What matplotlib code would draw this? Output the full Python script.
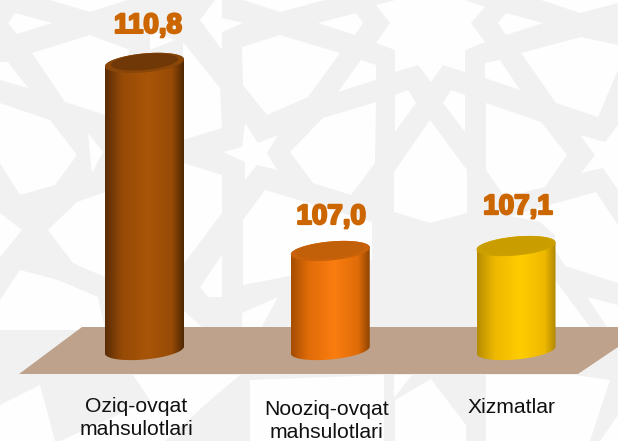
import numpy as np
import matplotlib
matplotlib.use('Agg')
import matplotlib.pyplot as plt
import matplotlib.patheffects as pe
from matplotlib.colors import LinearSegmentedColormap
from matplotlib.patches import Polygon

plt.rcParams['font.family'] = ['Liberation Sans', 'DejaVu Sans']

categories = ['Oziq-ovqat\nmahsulotlari', 'Nooziq-ovqat\nmahsulotlari', 'Xizmatlar']
values = [110.8, 107.0, 107.1]
value_labels = ['110,8', '107,0', '107,1']
base_value = 105.0

# colours: body edge left, body side, body middle, body edge right, cap, inner cap
bar_colors = [
    ['#5a2c06', '#974b06', '#a85508', '#4e2704', '#8a4608', '#6f3806'],
    ['#a54d02', '#e06c08', '#fa7d10', '#8f4403', '#c8610a', '#c2600a'],
    ['#b58c00', '#eeb800', '#ffcc00', '#a98300', '#cc9f00', '#c99c00'],
]

W, H = 618, 441
PX_PER_VALUE = 49.5
PX_PER_CAT = 185.75
BASE_PX = 350
FIRST_CAT_PX = 144.5

# background lattice, white cells over the grey (pixels of the picture)
white_cells = [
    [(8, 23), (15, 13), (52, 23), (17, 34)],
    [(32, 53), (90, 35), (130, 50), (105, 115), (65, 102)],
    [(0, 62), (8, 62), (28, 88), (0, 80)],
    [(0, 103), (50, 120), (77, 155), (55, 185), (20, 195), (0, 163)],
    [(50, 0), (128, 0), (90, 12)],
    [(88, 133), (103, 152), (92, 173)],
    [(183, 42), (220, 88), (222, 128), (183, 140)],
    [(150, 30), (175, 40), (150, 50)],
    [(200, 20), (215, 0), (222, 0), (222, 18), (243, 23), (222, 32), (222, 50)],
    [(242, 47), (280, 35), (340, 53), (308, 97), (267, 115), (243, 85)],
    [(243, 0), (280, 12), (325, 0)],
    [(318, 23), (356, 13), (363, 23), (355, 35)],
    [(376, 5), (395, 0), (465, 0), (485, 7), (471, 23), (485, 42), (465, 50), (465, 72),
     (443, 65), (431, 82), (418, 65), (395, 72), (395, 50), (376, 43), (390, 23)],
    [(361, 60), (376, 65), (376, 80), (338, 92)],
    [(323, 118), (376, 102), (375, 163), (351, 195), (313, 183), (290, 152)],
    [(395, 95), (408, 90), (416, 103), (395, 132)],
    [(451, 90), (465, 95), (465, 132), (443, 103)],
    [(430, 120), (467, 170), (467, 213), (430, 223), (394, 212), (394, 172)],
    [(485, 63), (500, 60), (520, 90), (485, 78)],
    [(498, 23), (506, 13), (543, 23), (506, 35)],
    [(541, 0), (580, 13), (618, 3), (618, 0)],
    [(521, 53), (581, 37), (618, 45), (618, 70), (598, 117), (556, 103)],
    [(486, 103), (541, 122), (567, 155), (545, 187), (505, 197), (486, 170)],
    [(580, 135), (605, 142), (618, 125), (618, 190), (603, 168), (581, 173), (595, 155)],
    [(510, 216), (596, 192), (618, 225), (618, 283), (565, 266), (555, 250), (555, 235), (540, 222)],
    [(587, 297), (618, 305), (618, 327), (607, 327)],
    [(555, 280), (590, 327), (555, 327)],
    [(0, 213), (22, 230), (0, 257)],
    [(48, 230), (77, 202), (105, 192), (105, 277), (73, 263)],
    [(20, 270), (58, 280), (98, 297), (105, 330), (0, 330), (0, 300)],
    [(183, 163), (222, 175), (222, 213), (183, 265)],
    [(200, 287), (222, 255), (222, 297), (208, 297)],
    [(243, 220), (265, 190), (372, 222), (372, 260), (243, 285)],
    [(242, 313), (278, 297), (260, 330), (242, 330)],
    [(183, 310), (205, 330), (183, 330)],
    [(223, 152), (242, 147), (245, 123), (258, 143), (278, 135), (267, 153), (277, 170),
     (257, 165), (245, 180), (245, 162)],
    [(133, 375), (240, 375), (207, 403), (165, 441), (60, 441), (150, 400)],
    [(250, 380), (384, 375), (384, 441), (250, 441)],
    [(394, 375), (412, 375), (394, 398)],
    [(395, 400), (431, 379), (466, 425), (466, 441), (395, 441)],
    [(486, 375), (575, 375), (610, 380), (590, 441), (486, 441)],
    [(600, 441), (618, 415), (618, 441)],
    [(0, 405), (40, 385), (55, 441), (0, 441)],
]
floor = [(82, 327), (618, 327), (618, 347), (578, 374), (19, 374)]

fig = plt.figure(figsize=(W / 100, H / 100), dpi=100)

# background and floor
bg = fig.add_axes([0, 0, 1, 1])
bg.set_xlim(0, W)
bg.set_ylim(H, 0)
bg.axis('off')
bg.add_patch(Polygon([(0, 0), (W, 0), (W, H), (0, H)], fc='#f1f1f1', ec='none'))
for cell in white_cells:
    bg.add_patch(Polygon(cell, fc='#fefefe', ec='none'))
bg.add_patch(Polygon(floor, fc='#bfa28b', ec='none'))

# chart axes, limits chosen so the value scale sits on the floor
ax = fig.add_axes([0, 0, 1, 1])
ax.patch.set_alpha(0)
ax.axis('off')

half_w = 39.5 / PX_PER_CAT
half_h = 9.5 / PX_PER_VALUE
shear = 3.5 / PX_PER_VALUE


def arc(cx, cy, t0, t1, scale=1.0):
    t = np.linspace(t0, t1, 80)
    return np.column_stack([cx + scale * half_w * np.cos(t),
                            cy + scale * (half_h * np.sin(t) + shear * np.cos(t))])


label_dy = [37, 34, 39]
label_dx = [3.5, 1, 2]
cat_dx = [-8, -4, -4]
cat_dy = [-47, -50, -48]

for i, v in enumerate(values):
    left, side, mid, right, cap, inner = bar_colors[i]
    outline = np.vstack([arc(i, base_value, np.pi, 2 * np.pi), arc(i, v, 0, np.pi)])
    cmap = LinearSegmentedColormap.from_list(
        'cyl', [(0, left), (0.22, side), (0.55, mid), (0.85, side), (1, right)])
    grad = np.linspace(0, 1, 256).reshape(1, -1)
    im = ax.imshow(grad, cmap=cmap, aspect='auto', zorder=2, interpolation='bilinear',
                   extent=(i - half_w, i + half_w, base_value - 2 * half_h, v + 2 * half_h))
    im.set_clip_path(Polygon(outline, transform=ax.transData))
    ax.add_patch(Polygon(arc(i, v, 0, 2 * np.pi), fc=cap, ec='none', zorder=3))
    ax.add_patch(Polygon(arc(i, v + 1 / PX_PER_VALUE, 0, 2 * np.pi, 0.85), fc=inner, ec='none', zorder=3))
    ax.annotate(value_labels[i], (i, v), xytext=(label_dx[i] * 0.72, label_dy[i] * 0.72),
                textcoords='offset points', ha='center', va='center', fontsize=20, fontweight='bold',
                color='#cc6600', zorder=4,
                path_effects=[pe.withStroke(linewidth=1.6, foreground='#cc6600')])
    ax.annotate(categories[i], (i, base_value), xytext=(cat_dx[i] * 0.72, cat_dy[i] * 0.72),
                textcoords='offset points', ha='center', va='top', fontsize=15.2, color='#111111',
                linespacing=1.24, annotation_clip=False, zorder=4)

ax.set_xlim(-FIRST_CAT_PX / PX_PER_CAT, (W - FIRST_CAT_PX) / PX_PER_CAT)
ax.set_ylim(base_value - (H - BASE_PX) / PX_PER_VALUE, base_value + BASE_PX / PX_PER_VALUE)

plt.savefig('out.png', dpi=100)
plt.close()
